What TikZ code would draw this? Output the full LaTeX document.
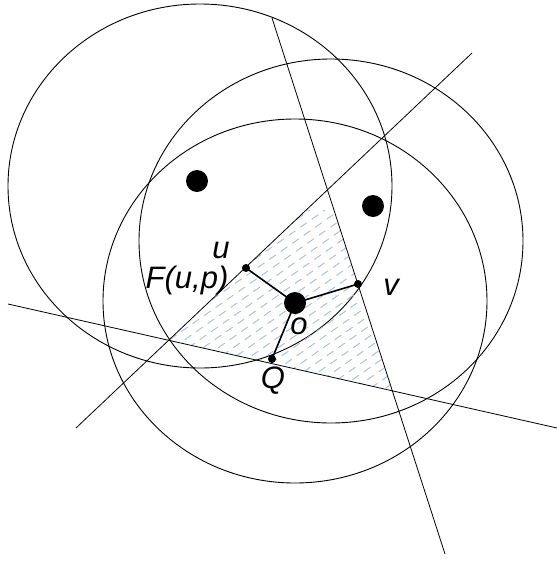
\documentclass[tikz,border=0pt]{standalone}
\usepackage{fontspec}
\setmainfont{Liberation Sans}
\usepackage{xcolor}
\usepackage{tikz}
\usetikzlibrary{positioning, calc}

\definecolor{hatchblue}{RGB}{170,192,232}

\begin{document}
\begin{tikzpicture}[x=1pt, y=-1pt,
    smalldot/.style={circle, fill=black, inner sep=0pt, minimum size=8pt},
    bigdot/.style={circle, fill=black, inner sep=0pt, minimum size=22pt},
    lbl/.style={font=\fontsize{31}{36}\selectfont\itshape, inner sep=0pt},
    edge/.style={line width=1.6pt}]
  \useasboundingbox (0,0) rectangle (557,563);
  % the three disks
  \draw[line width=0.9pt] (200,186) ellipse (192pt and 182pt);
  \draw[line width=0.9pt] (331,241) ellipse (192pt and 182pt);
  \draw[line width=0.9pt] (295,301) ellipse (192pt and 182pt);
  % hatched triangle
  \begin{scope}
    \clip (327,190) -- (169,340) -- (392,391) -- cycle;
    \foreach \i in {-200,-185,...,460}
      \draw[hatchblue, line width=1pt, dash pattern=on 8pt off 6pt] (\i,420) -- ++(300,-210);
  \end{scope}
  % lines
  \coordinate (a1) at (272,18);
  \coordinate (a2) at (445,554);
  \coordinate (b1) at (76,428);
  \coordinate (b2) at (472,53);
  \coordinate (c1) at (8,304);
  \coordinate (c2) at (557,428);
  \draw[line width=0.8pt] (a1) -- (a2);
  \draw[line width=0.8pt] (b1) -- (b2);
  \draw[line width=0.8pt] (c1) -- (c2);
  % points
  \node[bigdot] (p1) at (197,181) {};
  \node[bigdot] (p2) at (373,206) {};
  \node[bigdot] (o) at (295,303) {};
  \node[smalldot] (u) at (246,268) {};
  \node[smalldot] (v) at (358,284) {};
  \node[smalldot] (q) at (272,359) {};
  \draw[edge] (o.center) -- (u.center);
  \draw[edge] (o.center) -- (v.center);
  \draw[edge] (o.center) -- (q.center);
  % labels
  \node[lbl] (ul) at (221,250) {u};
  \node[lbl] (fl) at (187,280) {F(u,p)};
  \node[lbl] (vl) at (391,287) {v};
  \node[lbl] (ol) at (299,326) {o};
  \node[lbl] (ql) at (273,381) {Q};
\end{tikzpicture}
\end{document}
